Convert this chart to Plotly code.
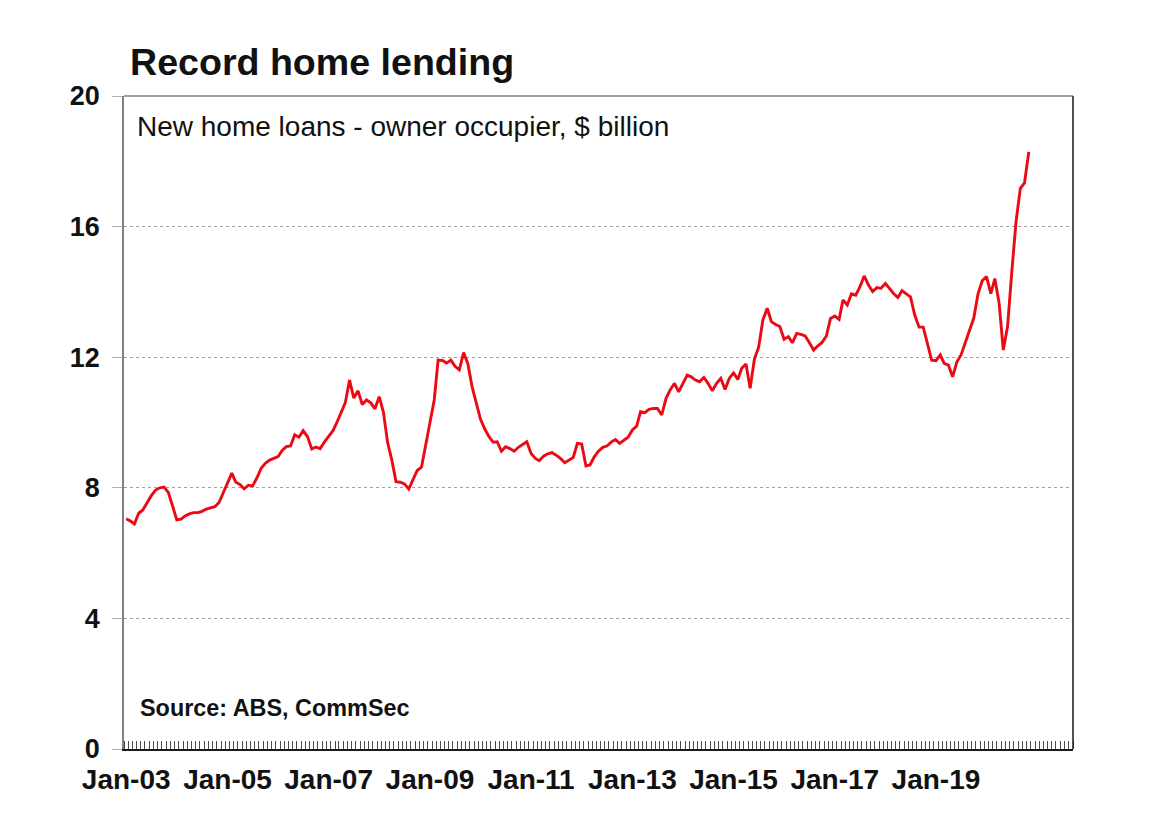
import plotly.graph_objects as go
import pandas as pd

# Monthly values, $ billion
y2003 = [7.05, 6.98, 6.89, 7.22, 7.32, 7.55, 7.76, 7.93, 8.00, 8.02, 7.86, 7.45]
y2004 = [7.02, 7.04, 7.14, 7.20, 7.24, 7.24, 7.28, 7.35, 7.38, 7.42, 7.55, 7.85]
y2005 = [8.15, 8.45, 8.18, 8.10, 7.97, 8.08, 8.06, 8.30, 8.60, 8.75, 8.85, 8.90]
y2006 = [8.96, 9.15, 9.26, 9.28, 9.62, 9.55, 9.75, 9.57, 9.19, 9.25, 9.20, 9.40]
y2007 = [9.57, 9.75, 10.00, 10.30, 10.60, 11.30, 10.75, 10.97, 10.55, 10.69, 10.60, 10.42]
y2008 = [10.79, 10.30, 9.40, 8.85, 8.19, 8.17, 8.12, 7.96, 8.25, 8.53, 8.63, 9.30]
y2009 = [10.10, 10.69, 11.91, 11.90, 11.82, 11.91, 11.72, 11.61, 12.14, 11.81, 11.10, 10.60]
y2010 = [10.10, 9.80, 9.58, 9.40, 9.41, 9.12, 9.26, 9.20, 9.12, 9.24, 9.33, 9.41]
y2011 = [9.05, 8.90, 8.83, 8.97, 9.04, 9.08, 9.00, 8.90, 8.77, 8.85, 8.93, 9.36]
y2012 = [9.34, 8.67, 8.70, 8.95, 9.12, 9.24, 9.28, 9.40, 9.48, 9.36, 9.45, 9.55]
y2013 = [9.77, 9.89, 10.33, 10.30, 10.40, 10.43, 10.43, 10.23, 10.74, 11.00, 11.20, 10.94]
y2014 = [11.20, 11.45, 11.40, 11.30, 11.25, 11.38, 11.20, 10.97, 11.20, 11.35, 11.01, 11.35]
y2015 = [11.52, 11.32, 11.66, 11.79, 11.05, 11.95, 12.30, 13.14, 13.50, 13.09, 13.00, 12.94]
y2016 = [12.55, 12.63, 12.44, 12.73, 12.70, 12.65, 12.45, 12.22, 12.35, 12.45, 12.65, 13.19]
y2017 = [13.26, 13.16, 13.75, 13.60, 13.94, 13.90, 14.15, 14.49, 14.21, 14.01, 14.13, 14.11]
y2018 = [14.26, 14.10, 13.95, 13.83, 14.04, 13.94, 13.85, 13.29, 12.92, 12.92, 12.37, 11.91]
y2019 = [11.89, 12.07, 11.81, 11.76, 11.40, 11.86, 12.07, 12.45, 12.85, 13.20, 13.95, 14.34]
y2020 = [14.47, 13.95, 14.41, 13.65, 12.22, 12.95, 14.60, 16.15, 17.17, 17.34, 18.29]

values = (y2003 + y2004 + y2005 + y2006 + y2007 + y2008 + y2009 + y2010 + y2011
          + y2012 + y2013 + y2014 + y2015 + y2016 + y2017 + y2018 + y2019 + y2020)
months = pd.date_range("2003-01-01", periods=len(values), freq="MS")

x_tick_dates = ["2003-01-01", "2005-01-01", "2007-01-01", "2009-01-01", "2011-01-01",
                "2013-01-01", "2015-01-01", "2017-01-01", "2019-01-01"]
x_tick_labels = ["Jan-03", "Jan-05", "Jan-07", "Jan-09", "Jan-11",
                 "Jan-13", "Jan-15", "Jan-17", "Jan-19"]
y_ticks = [0, 4, 8, 12, 16, 20]

FONT = "Liberation Sans, Arial, Helvetica, sans-serif"

fig = go.Figure(
    go.Scatter(x=months, y=values, mode="lines",
               line=dict(color="#ea0a14", width=2.9), hoverinfo="x+y")
)

fig.update_layout(
    width=1160, height=837,
    margin=dict(l=124, r=87, t=96, b=88),
    paper_bgcolor="white", plot_bgcolor="white",
    showlegend=False,
    font=dict(family=FONT, color="#111111"),
    title=dict(text="Record home lending", xref="container", yref="container",
               x=130 / 1160, xanchor="left", y=1 - 62 / 837, yanchor="middle",
               font=dict(size=37.6, weight="bold", color="#111111", family=FONT)),
)

fig.update_xaxes(
    type="date", range=["2002-12-16", "2021-09-16"],
    tickmode="array", tickvals=x_tick_dates, ticktext=x_tick_labels,
    ticks="", tickfont=dict(size=28, weight="bold", family=FONT),
    ticklabelstandoff=5,
    showgrid=False, zeroline=False,
    showline=True, linecolor="#1a1a1a", linewidth=1.5,
    minor=dict(ticks="inside", ticklen=8, tickcolor="#4a4a4a", tickwidth=1,
               tick0="2002-12-16", dtick="M1", showgrid=False),
)

fig.update_yaxes(
    range=[0, 20], tickmode="array", tickvals=y_ticks,
    ticks="outside", ticklen=10, tickcolor="#b0b0b0", tickwidth=1,
    tickfont=dict(size=27, weight="bold", family=FONT),
    ticklabelstandoff=7,
    showgrid=True, gridcolor="#a0a0a0", gridwidth=1, griddash="dot",
    zeroline=False,
    showline=True, linecolor="#808080", linewidth=1.5,
)

# plot-area frame: grey top, black right
fig.add_shape(type="line", xref="paper", yref="paper", x0=0, x1=1, y0=1, y1=1,
              line=dict(color="#808080", width=1.5))
fig.add_shape(type="line", xref="paper", yref="paper", x0=1, x1=1, y0=0, y1=1,
              line=dict(color="#1a1a1a", width=1.5))

fig.add_annotation(text="New home loans - owner occupier, $ billion",
                   xref="paper", yref="paper", x=0.0111, y=0.954,
                   xanchor="left", yanchor="middle", showarrow=False,
                   font=dict(size=28, color="#111111", family=FONT))
fig.add_annotation(text="Source: ABS, CommSec",
                   xref="paper", yref="paper", x=0.0152, y=0.0628,
                   xanchor="left", yanchor="middle", showarrow=False,
                   font=dict(size=23.4, weight="bold", color="#111111", family=FONT))

fig.write_html("out.html")
